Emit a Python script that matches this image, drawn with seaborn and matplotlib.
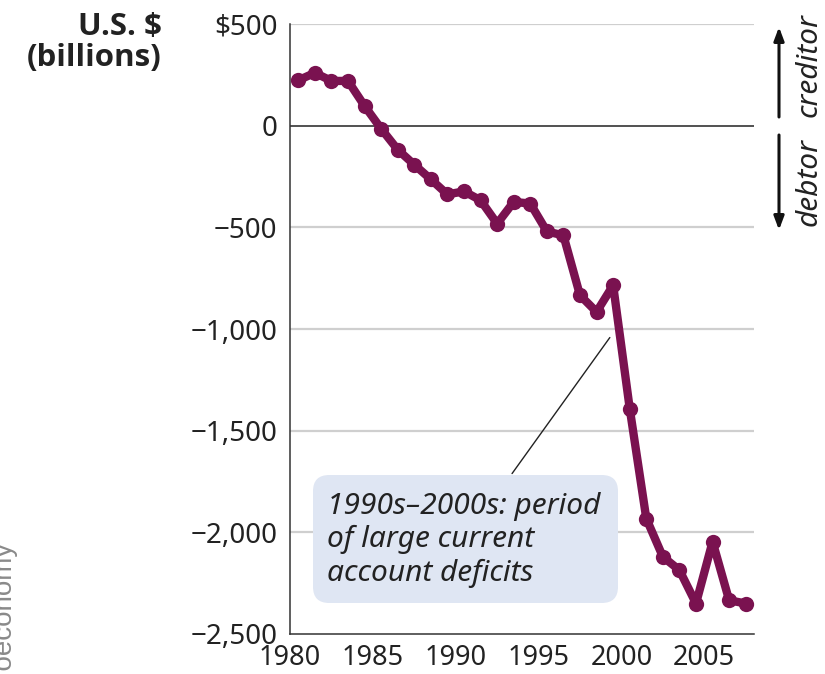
import matplotlib
matplotlib.use("Agg")
import numpy as np
import pandas as pd
import matplotlib.pyplot as plt
import seaborn as sns
from matplotlib.patches import FancyBboxPatch
from matplotlib.ticker import FuncFormatter, FixedLocator

# U.S. net international investment position, billions of dollars
years = list(range(1980, 2008))
position = [223, 260, 220, 220, 97, -15, -118, -192, -264, -338,
            -323, -367, -482, -375, -383, -520, -540, -834, -916, -785,
            -1391, -1932, -2120, -2186, -2350, -2046, -2334, -2350]

x_ticks = [1980, 1985, 1990, 1995, 2000, 2005]
y_ticks = [-2500, -2000, -1500, -1000, -500, 0, 500]

line_color = "#7a1250"
grid_color = "#cfcfcf"
spine_color = "#333333"
box_color = "#dfe6f3"

sns.set_style("white")
plt.rcParams["font.family"] = ["Noto Sans", "DejaVu Sans"]

df = pd.DataFrame({"year": years, "position": position})
# annual values are plotted at mid-year
df["mid"] = df["year"] + 0.5

fig = plt.figure(figsize=(8.25, 6.74), dpi=100)
ax = fig.add_axes([290 / 825, 40 / 674, 464 / 825, 610 / 674])

for v in y_ticks:
    if v not in (0, -2500):
        ax.axhline(v, color=grid_color, lw=1.6, zorder=1)
ax.axhline(0, color=spine_color, lw=1.2, zorder=1)

sns.lineplot(data=df, x="mid", y="position", ax=ax, color=line_color,
             linewidth=6, marker="o", markersize=11, markeredgewidth=0,
             zorder=3)

ax.set_xlim(1980, 2008)
ax.set_ylim(-2500, 500)
ax.xaxis.set_major_locator(FixedLocator(x_ticks))
ax.yaxis.set_major_locator(FixedLocator(y_ticks))


def fmt_y(v, _):
    v = int(round(v))
    if v == 0:
        return "0"
    if v > 0:
        return f"${v:,}"
    return "\u2212" + f"{-v:,}"


ax.yaxis.set_major_formatter(FuncFormatter(fmt_y))
ax.set_xlabel("")
ax.set_ylabel("")
ax.tick_params(axis="x", direction="in", length=8, width=1.1,
               color=spine_color, pad=7, labelsize=19.5, labelcolor="#222222")
ax.tick_params(axis="y", length=0, pad=9, labelsize=20, labelcolor="#222222")

for side in ("top", "right"):
    ax.spines[side].set_visible(False)
for side in ("left", "bottom"):
    ax.spines[side].set_color(spine_color)
    ax.spines[side].set_linewidth(1.1)

# annotation box and leader line
aw, ah = 464, 610
box = FancyBboxPatch((23 / aw, 31 / ah), 305 / aw, 128 / ah,
                     boxstyle="round,pad=0,rounding_size=0.035",
                     mutation_aspect=aw / ah,
                     transform=ax.transAxes, fc=box_color, ec="none",
                     zorder=4)
ax.add_patch(box)
ax.text(37 / aw, 94 / ah,
        "1990s\u20132000s: period\nof large current\naccount deficits",
        transform=ax.transAxes, ha="left", va="center", fontsize=21.5,
        style="italic", color="#222222", linespacing=1.2, zorder=5)
ax.plot([1993.4, 1999.3], [-1711, -1042], color="#222222", lw=1.0,
        zorder=2)

# creditor / debtor arrows on the right
ax.annotate("", xy=(489 / aw, 607 / ah), xytext=(489 / aw, 517 / ah),
            xycoords="axes fraction", annotation_clip=False,
            arrowprops=dict(arrowstyle="-|>,head_length=0.8,head_width=0.3",
                            color="#111111", lw=2.2, shrinkA=0, shrinkB=0))
ax.annotate("", xy=(489 / aw, 404 / ah), xytext=(489 / aw, 499 / ah),
            xycoords="axes fraction", annotation_clip=False,
            arrowprops=dict(arrowstyle="-|>,head_length=0.8,head_width=0.3",
                            color="#111111", lw=2.2, shrinkA=0, shrinkB=0))
ax.text(519 / aw, 569 / ah, "creditor", transform=ax.transAxes,
        rotation=90, rotation_mode="anchor", ha="center", va="center",
        fontsize=21.5, style="italic", color="#222222", clip_on=False)
ax.text(519 / aw, 452 / ah, "debtor", transform=ax.transAxes,
        rotation=90, rotation_mode="anchor", ha="center", va="center",
        fontsize=21.5, style="italic", color="#222222", clip_on=False)

# unit label
fig.text(162 / 825, 1 - 12 / 674, "U.S. $\n(billions)", ha="right",
         va="top", fontsize=22.5, fontweight="bold", color="#222222",
         linespacing=1.05, family=["Open Sans", "Lato", "DejaVu Sans"])

# side credit
fig.text(3 / 825, 134 / 674, "Macroeconomy", rotation=90,
         rotation_mode="anchor", ha="right", va="center", fontsize=20,
         color="#8a8a8a", family=["Liberation Sans", "DejaVu Sans"])

fig.savefig("out.png", dpi=100)
